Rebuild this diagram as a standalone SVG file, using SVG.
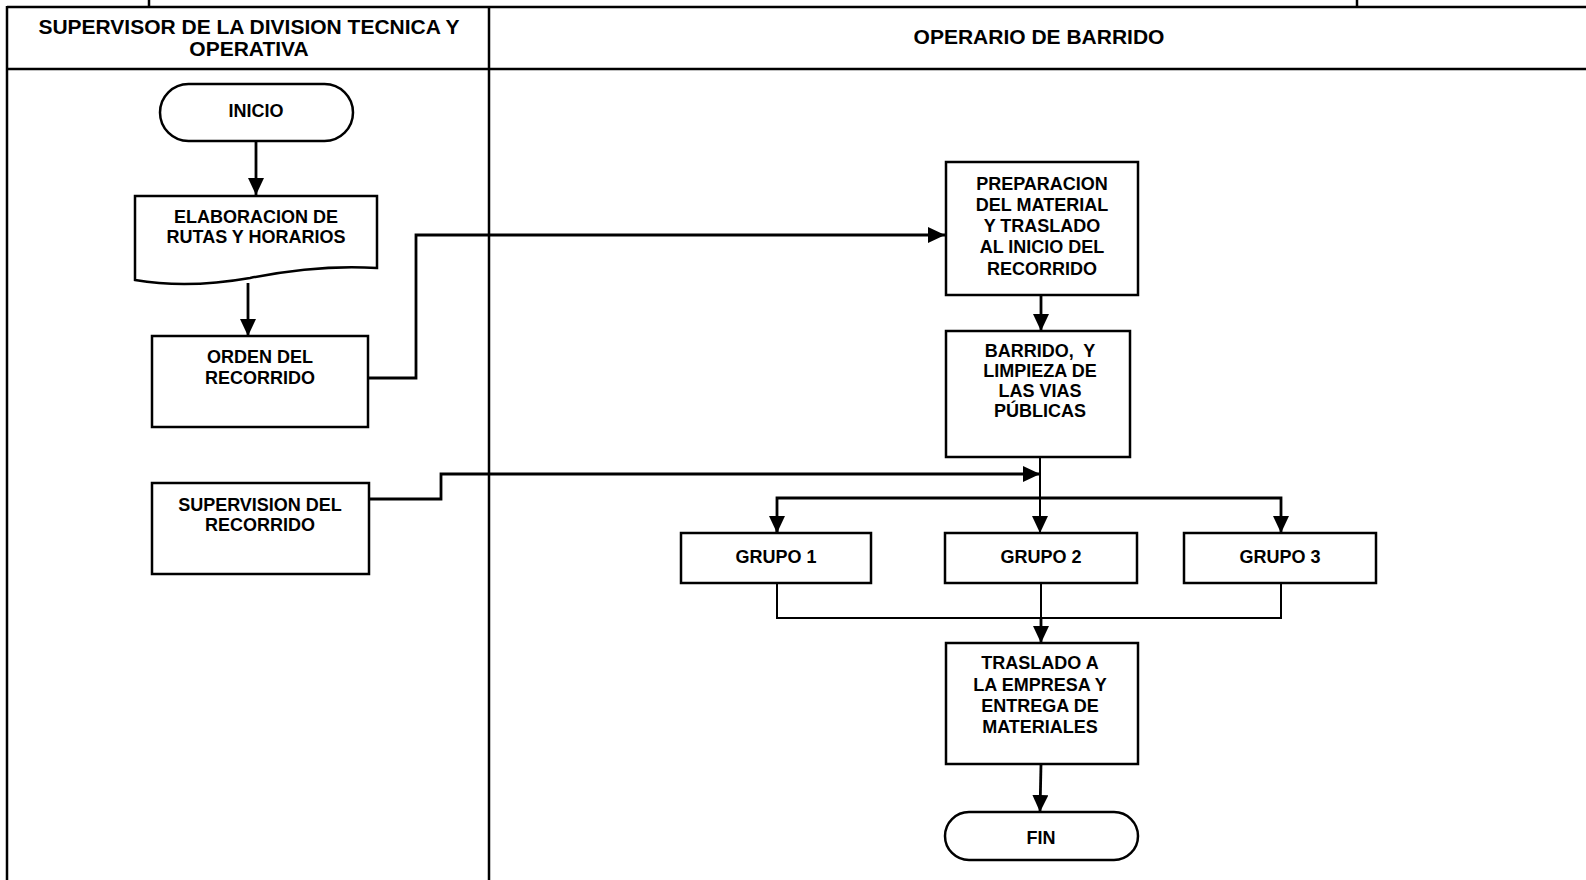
<svg xmlns="http://www.w3.org/2000/svg" width="1586" height="880" viewBox="0 0 1586 880">
<style>
.tbl{stroke:#000;stroke-width:2.5;fill:none}
.box{fill:#fff;stroke:#000;stroke-width:2.5}
.con{fill:none;stroke:#000;stroke-width:2.8}
.thin{fill:none;stroke:#000;stroke-width:2}
.hd{font-family:"Liberation Sans",Arial,sans-serif;font-weight:bold;font-size:21px;text-anchor:middle;fill:#000}
.tx{font-family:"Liberation Sans",Arial,sans-serif;font-weight:bold;font-size:18px;text-anchor:middle;fill:#000}
</style>
<defs>
<marker id="ah" markerUnits="userSpaceOnUse" markerWidth="17" markerHeight="16" refX="17" refY="8" orient="auto">
<path d="M0,0 L17,8 L0,16 Z" fill="#000"/>
</marker>
</defs>
<rect width="1586" height="880" fill="#fff"/>
<g id="table">
<line class="tbl" x1="149" y1="0" x2="149" y2="7"/>
<line class="tbl" x1="1357" y1="0" x2="1357" y2="7"/>
<line class="tbl" x1="7" y1="7" x2="1586" y2="7"/>
<line class="tbl" x1="7" y1="69" x2="1586" y2="69"/>
<line class="tbl" x1="7" y1="6" x2="7" y2="880"/>
<line class="tbl" x1="489" y1="6" x2="489" y2="880"/>
<text class="hd" x="249" y="34">SUPERVISOR DE LA DIVISION TECNICA Y</text>
<text class="hd" x="249" y="56">OPERATIVA</text>
<text class="hd" x="1039" y="44">OPERARIO DE BARRIDO</text>
</g>
<g id="connectors">
<line class="con" x1="256" y1="141" x2="256" y2="195" marker-end="url(#ah)"/>
<line class="con" x1="248" y1="283" x2="248" y2="336" marker-end="url(#ah)"/>
<path class="con" d="M368,378 H416 V235 H945" marker-end="url(#ah)"/>
<path class="con" d="M369,499 H441 V474 H1040" marker-end="url(#ah)"/>
<line class="con" x1="1041" y1="295" x2="1041" y2="331" marker-end="url(#ah)"/>
<line class="thin" x1="1040" y1="457" x2="1040" y2="533" marker-end="url(#ah)"/>
<path class="con" d="M777,533 V498 H1281 V533" marker-end="url(#ah)"/>
<line class="con" x1="777" y1="520" x2="777" y2="533" marker-end="url(#ah)"/>
<path class="thin" d="M777,583 V618 H1281 V583"/>
<line class="thin" x1="1041" y1="583" x2="1041" y2="618"/>
<line class="con" x1="1041" y1="618" x2="1041" y2="643" marker-end="url(#ah)"/>
<line class="con" x1="1041" y1="764" x2="1040" y2="812" marker-end="url(#ah)"/>
</g>
<g id="inicio">
<rect class="box" x="160" y="84" width="193" height="57" rx="28.5"/>
<text class="tx" x="256" y="117">INICIO</text>
</g>
<g id="elaboracion">
<path class="box" d="M135,196 H377 V268 C330,265 290,270 250,278 C210,285 170,286 135,280 Z"/>
<text class="tx" x="256" y="223">ELABORACION DE</text>
<text class="tx" x="256" y="243">RUTAS Y HORARIOS</text>
</g>
<g id="orden">
<rect class="box" x="152" y="336" width="216" height="91"/>
<text class="tx" x="260" y="363">ORDEN DEL</text>
<text class="tx" x="260" y="384">RECORRIDO</text>
</g>
<g id="supervision">
<rect class="box" x="152" y="483" width="217" height="91"/>
<text class="tx" x="260" y="511">SUPERVISION DEL</text>
<text class="tx" x="260" y="531">RECORRIDO</text>
</g>
<g id="preparacion">
<rect class="box" x="946" y="162" width="192" height="133"/>
<text class="tx" x="1042" y="190">PREPARACION</text>
<text class="tx" x="1042" y="211">DEL MATERIAL</text>
<text class="tx" x="1042" y="232">Y TRASLADO</text>
<text class="tx" x="1042" y="253">AL INICIO DEL</text>
<text class="tx" x="1042" y="275">RECORRIDO</text>
</g>
<g id="barrido">
<rect class="box" x="946" y="331" width="184" height="126"/>
<text class="tx" x="1040" y="357">BARRIDO,&#160; Y</text>
<text class="tx" x="1040" y="377">LIMPIEZA DE</text>
<text class="tx" x="1040" y="397">LAS VIAS</text>
<text class="tx" x="1040" y="417">PÚBLICAS</text>
</g>
<g id="grupo1">
<rect class="box" x="681" y="533" width="190" height="50"/>
<text class="tx" x="776" y="563">GRUPO 1</text>
</g>
<g id="grupo2">
<rect class="box" x="945" y="533" width="192" height="50"/>
<text class="tx" x="1041" y="563">GRUPO 2</text>
</g>
<g id="grupo3">
<rect class="box" x="1184" y="533" width="192" height="50"/>
<text class="tx" x="1280" y="563">GRUPO 3</text>
</g>
<g id="traslado">
<rect class="box" x="946" y="643" width="192" height="121"/>
<text class="tx" x="1040" y="669">TRASLADO A</text>
<text class="tx" x="1040" y="691">LA EMPRESA Y</text>
<text class="tx" x="1040" y="712">ENTREGA DE</text>
<text class="tx" x="1040" y="733">MATERIALES</text>
</g>
<g id="fin">
<rect class="box" x="945" y="812" width="193" height="48" rx="24"/>
<text class="tx" x="1041" y="844">FIN</text>
</g>
</svg>
